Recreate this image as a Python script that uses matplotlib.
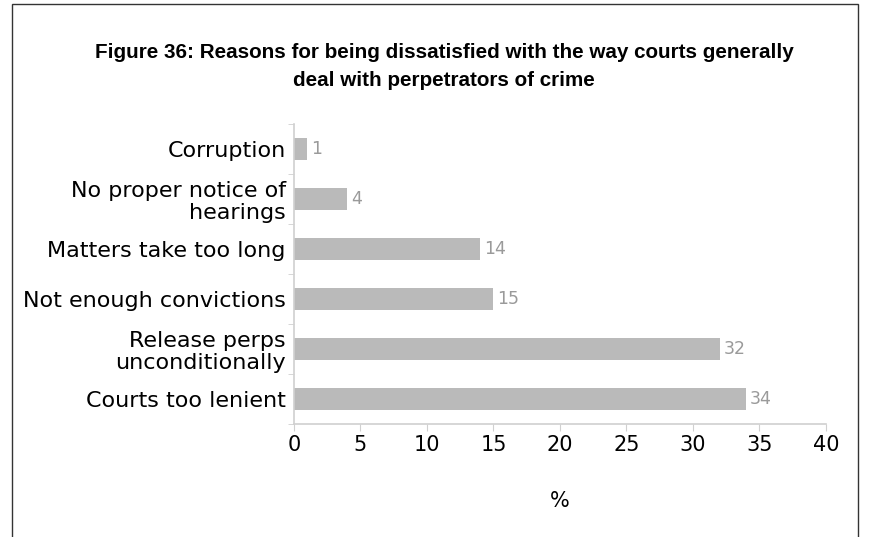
import matplotlib
matplotlib.use("Agg")
import matplotlib.pyplot as plt
from matplotlib.patches import Rectangle
import numpy as np

reasons = ["Courts too lenient", "Release perps\nunconditionally", "Not enough convictions",
           "Matters take too long", "No proper notice of\nhearings", "Corruption"]
percent = [34, 32, 15, 14, 4, 1]
xticks = [0, 5, 10, 15, 20, 25, 30, 35, 40]

plt.rcParams['font.family'] = ['DejaVu Sans']

fig = plt.figure(figsize=(8.69, 5.37), dpi=100)
ax = fig.add_axes([0.3383, 0.2104, 0.6122, 0.5587])

y = np.arange(len(reasons))
bars = ax.barh(y, percent, height=0.44, color="#bababa")
for b, v in zip(bars, percent):
    ax.text(b.get_width() + 0.3, b.get_y() + b.get_height() / 2, str(v),
            va="center", ha="left", fontsize=12.5, color="#9a9a9a")

ax.set_xlim(0, 40)
ax.set_ylim(-0.5, len(reasons) - 0.5)
ax.set_xticks(xticks)
ax.set_xticklabels([str(t) for t in xticks], fontsize=15)
ax.set_yticks(y)
ax.set_yticklabels(reasons, fontsize=16, linespacing=1.12)
ax.tick_params(axis="y", length=0, pad=6)
ax.set_yticks(np.arange(-0.5, len(reasons), 1), minor=True)
ax.tick_params(axis="y", which="minor", length=4, color="#d0d0d0")
ax.tick_params(axis="x", length=5, color="#d0d0d0", pad=3)

for s in ["top", "right"]:
    ax.spines[s].set_visible(False)
for s in ["left", "bottom"]:
    ax.spines[s].set_color("#d0d0d0")
    ax.spines[s].set_linewidth(1.2)

ax.set_xlabel("%", fontsize=15, labelpad=26)

fig.text(0.511, 0.877, "Figure 36: Reasons for being dissatisfied with the way courts generally\ndeal with perpetrators of crime",
         ha="center", va="center", fontsize=14.9, fontweight="bold", linespacing=1.6,
         family="Liberation Sans")

# outer frame, open at the bottom
fig.add_artist(Rectangle((12 / 869, -0.05), (858 - 12) / 869, 1 - 4 / 537 + 0.05,
                         transform=fig.transFigure, fill=False, edgecolor="#333333",
                         linewidth=1.0, clip_on=False))

fig.savefig("out.png", dpi=100)
